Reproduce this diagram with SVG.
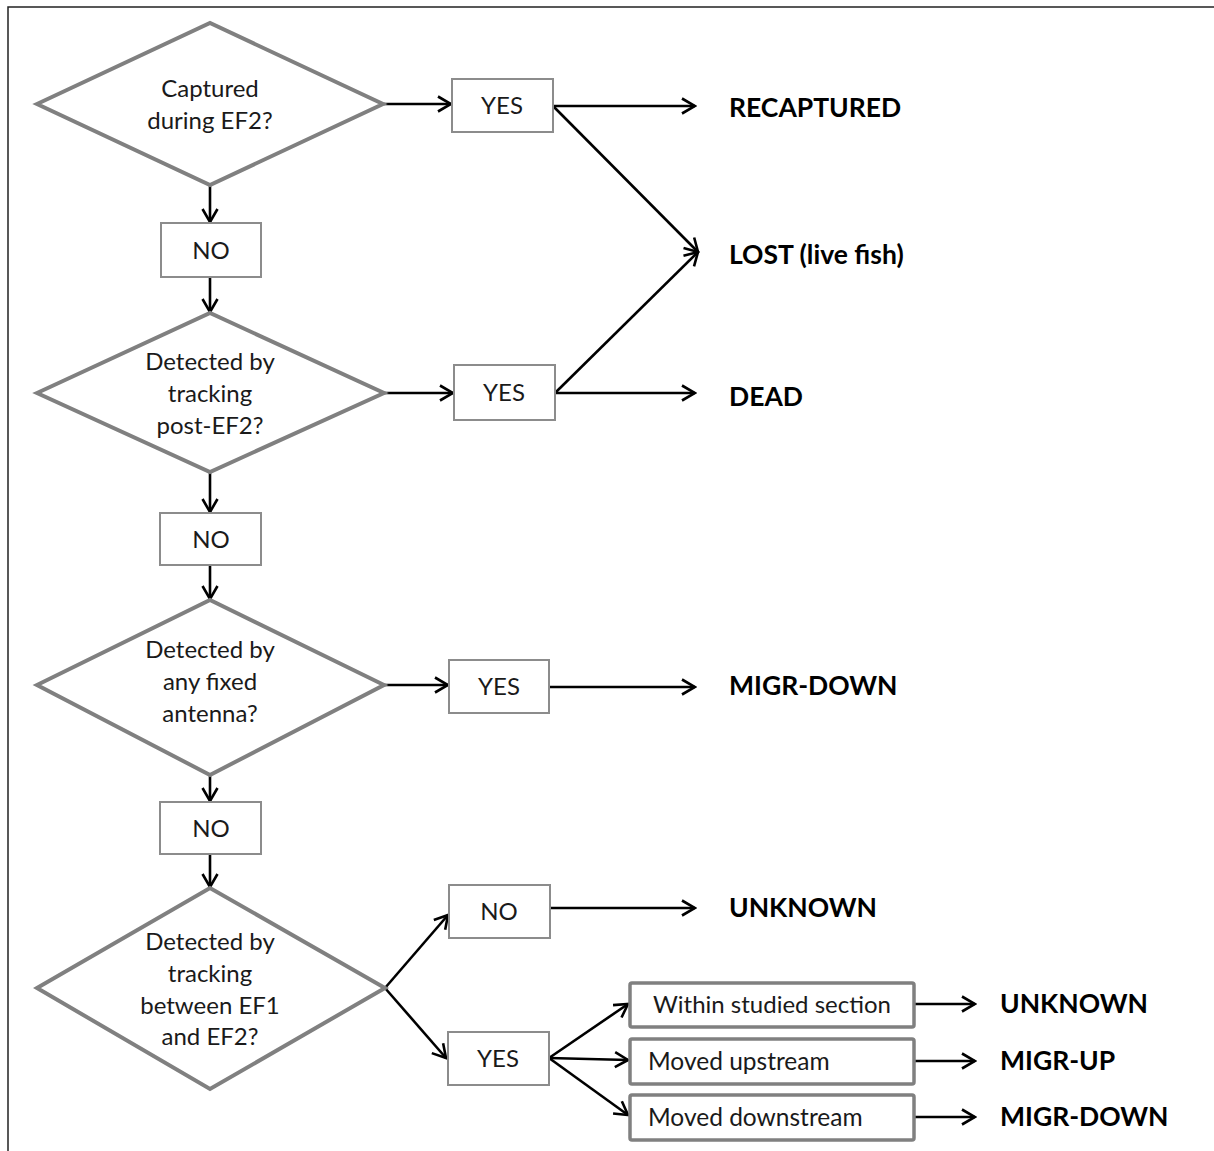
<svg xmlns="http://www.w3.org/2000/svg" width="1214" height="1151" viewBox="0 0 1214 1151">
<defs>
<marker id="ah" markerWidth="16" markerHeight="18" refX="14" refY="9" orient="auto" markerUnits="userSpaceOnUse">
<path d="M1,1.5 L14,9 L1,16.5" fill="none" stroke="#000" stroke-width="2.6" stroke-linejoin="miter"/>
</marker>
<style>
.dia{fill:#fff;stroke:#808080;stroke-width:4;stroke-linejoin:miter}
.box{fill:#fff;stroke:#8c8c8c;stroke-width:2}
.box2{fill:#fff;stroke:#808080;stroke-width:3.5}
.t{font-family:"Lato","Open Sans",sans-serif;font-size:24px;fill:#1a1a1a;text-anchor:middle}
.tb{font-family:"Lato","Open Sans",sans-serif;font-size:24px;fill:#1a1a1a;text-anchor:middle}
.tl{font-family:"Lato","Open Sans",sans-serif;font-size:24.5px;fill:#1a1a1a}
.lab{font-family:"Lato","Open Sans",sans-serif;font-size:26.5px;font-weight:bold;fill:#000}
.c{fill:none;stroke:#000;stroke-width:2.6;marker-end:url(#ah)}
</style>
</defs>
<rect width="1214" height="1151" fill="#fff"/>
<path d="M8,1151 L8,7 L1214,7" fill="none" stroke="#222" stroke-width="1.5"/>

<g id="connectors">
<path class="c" d="M384,104 L451,104"/>
<path class="c" d="M553,106 L695,106"/>
<path class="c" d="M553,106 L698,252"/>
<path class="c" d="M210,185 L210,222"/>
<path class="c" d="M210,277 L210,312"/>
<path class="c" d="M384,393 L453,393"/>
<path class="c" d="M555,393 L698,252"/>
<path class="c" d="M555,393 L695,393"/>
<path class="c" d="M210,472 L210,512"/>
<path class="c" d="M210,565 L210,599"/>
<path class="c" d="M384,685 L448,685"/>
<path class="c" d="M549,687 L695,687"/>
<path class="c" d="M210,775 L210,801"/>
<path class="c" d="M210,854 L210,887"/>
<path class="c" d="M385,988 L448,915"/>
<path class="c" d="M385,988 L446,1058"/>
<path class="c" d="M550,908 L695,908"/>
<path class="c" d="M549,1058 L628,1004"/>
<path class="c" d="M549,1058 L628,1060"/>
<path class="c" d="M549,1058 L628,1115"/>
<path class="c" d="M914,1004 L975,1004"/>
<path class="c" d="M914,1061 L975,1061"/>
<path class="c" d="M914,1117 L975,1117"/>
</g>

<g id="d1">
<polygon class="dia" points="37,104 210,23 383,104 210,185"/>
<text class="t" x="210" y="97">Captured</text>
<text class="t" x="210" y="129">during EF2?</text>
</g>
<g id="yes1"><rect class="box" x="452" y="79" width="101" height="53"/><text class="tb" x="502" y="114">YES</text></g>
<g id="no1"><rect class="box" x="161" y="223" width="100" height="54"/><text class="tb" x="211" y="259">NO</text></g>

<g id="d2">
<polygon class="dia" points="37,393 210,313 384,393 210,472"/>
<text class="t" x="210" y="370">Detected by</text>
<text class="t" x="210" y="402">tracking</text>
<text class="t" x="210" y="434">post-EF2?</text>
</g>
<g id="yes2"><rect class="box" x="454" y="365" width="101" height="55"/><text class="tb" x="504" y="401">YES</text></g>
<g id="no2"><rect class="box" x="160" y="513" width="101" height="52"/><text class="tb" x="211" y="548">NO</text></g>

<g id="d3">
<polygon class="dia" points="37,685 210,600 384,685 210,775"/>
<text class="t" x="210" y="658">Detected by</text>
<text class="t" x="210" y="690">any fixed</text>
<text class="t" x="210" y="722">antenna?</text>
</g>
<g id="yes3"><rect class="box" x="449" y="660" width="100" height="53"/><text class="tb" x="499" y="695">YES</text></g>
<g id="no3"><rect class="box" x="160" y="802" width="101" height="52"/><text class="tb" x="211" y="837">NO</text></g>

<g id="d4">
<polygon class="dia" points="37,988 210,888 385,988 210,1089"/>
<text class="t" x="210" y="950">Detected by</text>
<text class="t" x="210" y="982">tracking</text>
<text class="t" x="210" y="1014">between EF1</text>
<text class="t" x="210" y="1045">and EF2?</text>
</g>
<g id="no4"><rect class="box" x="449" y="885" width="101" height="53"/><text class="tb" x="499" y="920">NO</text></g>
<g id="yes4"><rect class="box" x="448" y="1032" width="101" height="53"/><text class="tb" x="498" y="1067">YES</text></g>

<g id="within"><rect class="box2" x="630" y="983" width="284" height="44" rx="2"/><text class="t" x="772" y="1013">Within studied section</text></g>
<g id="up"><rect class="box2" x="630" y="1039" width="284" height="45" rx="2"/><text class="tl" x="648" y="1070">Moved upstream</text></g>
<g id="down"><rect class="box2" x="630" y="1095" width="284" height="45" rx="2"/><text class="tl" x="648" y="1126">Moved downstream</text></g>

<g id="recaptured"><text class="lab" x="729" y="117">RECAPTURED</text></g>
<g id="lost"><text class="lab" x="729" y="264">LOST (live fish)</text></g>
<g id="dead"><text class="lab" x="729" y="406">DEAD</text></g>
<g id="migrdown1"><text class="lab" x="729" y="695">MIGR-DOWN</text></g>
<g id="unknown1"><text class="lab" x="729" y="917">UNKNOWN</text></g>
<g id="unknown2"><text class="lab" x="1000" y="1013">UNKNOWN</text></g>
<g id="migrup"><text class="lab" x="1000" y="1070">MIGR-UP</text></g>
<g id="migrdown2"><text class="lab" x="1000" y="1126">MIGR-DOWN</text></g>
</svg>
